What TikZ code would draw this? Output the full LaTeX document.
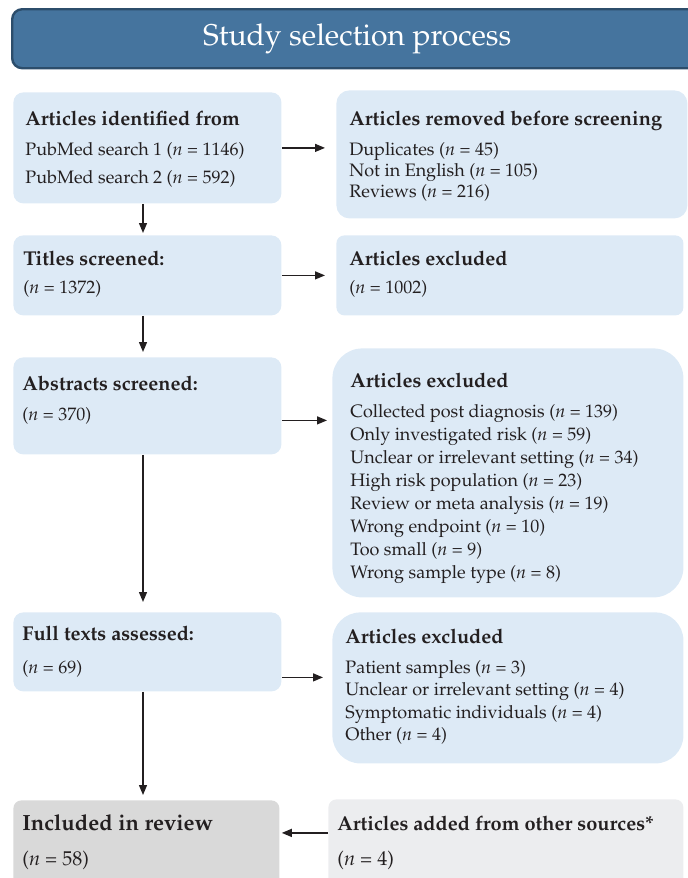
\documentclass[tikz,border=0pt]{standalone}
\usepackage[T1]{fontenc}
\usepackage{mathpazo}
\usepackage{xcolor}
\usetikzlibrary{
  arrows.meta,
  positioning
}
\definecolor{barfill}{HTML}{45749E}
\definecolor{bardraw}{HTML}{2C4D6B}
\definecolor{stagefill}{HTML}{DDEAF6}
\definecolor{finalfill}{HTML}{D9D9D9}
\definecolor{extrafill}{HTML}{ECEDEF}
\definecolor{ink}{HTML}{231F20}

\newcommand{\boxhead}[1]{{\bfseries\fontsize{10}{12}\selectfont #1}}
\newcommand{\nval}[1]{(\textit{n} = #1)}

\tikzset{
  titlebar/.style={
    draw=bardraw,
    line width=1.2pt,
    fill=barfill,
    rounded corners=5pt,
    anchor=north west,
    text=white,
    font=\fontsize{15}{18}\selectfont,
  },
  stagebox/.style={
    fill=stagefill,
    rounded corners=5pt,
    anchor=north west,
    inner sep=0pt,
  },
  listbox/.style={
    stagebox,
    rounded corners=15pt,
  },
  boxtxt/.style={
    inner sep=0pt,
    align=left,
    text=ink,
    font=\fontsize{9}{14}\selectfont,
  },
  arr/.style={
    -{Triangle[length=5pt,width=4pt]},
    line width=0.65pt,
    draw=ink,
  },
}

\begin{document}
\begin{tikzpicture}[x=0.5pt, y=0.5pt]
  \clip (0,0) rectangle (688,-878);

  % --- heading ---
  \node[titlebar, minimum width=345pt, minimum height=29.5pt] (head) at (11,-8)
    {Study selection process};

  % --- main stages (left column) ---
  \node[stagebox, minimum width=134pt, minimum height=55.5pt] (ident)    at (13,-92)  {};
  \node[stagebox, minimum width=134pt, minimum height=40pt]   (titles)   at (13,-235) {};
  \node[stagebox, minimum width=134pt, minimum height=48.5pt] (abstr)    at (13,-357) {};
  \node[stagebox, minimum width=134pt, minimum height=39.5pt] (fulltext) at (13,-612) {};
  \node[stagebox, fill=finalfill, rounded corners=4pt,
        minimum width=133pt, minimum height=45pt]            (incl)     at (13,-800) {};

  % --- exclusions (right column) ---
  \node[stagebox, rounded corners=6.5pt, minimum width=175.5pt, minimum height=64pt]
    (removed) at (336,-90) {};
  \node[stagebox, rounded corners=4pt, minimum width=173.5pt, minimum height=40pt]
    (excl1) at (336,-235) {};
  \node[listbox, minimum width=175.5pt, minimum height=124.5pt] (excl2) at (332,-348) {};
  \node[listbox, rounded corners=14pt, minimum width=175.5pt, minimum height=75.5pt]
    (excl3) at (332,-612) {};
  \node[stagebox, fill=extrafill, rounded corners=4pt,
        minimum width=177.5pt, minimum height=45pt] (added) at (328,-799) {};

  % --- box texts ---
  \node[boxtxt, below right=9.2pt and 6pt of ident.north west] (identtxt)
    {\boxhead{Articles identified from}\\[1pt]
     PubMed search 1 \nval{1146}\\
     PubMed search 2 \nval{592}};
  \node[boxtxt, font=\fontsize{9}{10.5}\selectfont,
        below right=10.2pt and 6.5pt of removed.north west] (removedtxt)
    {\boxhead{Articles removed before screening}\\[4.5pt]
     Duplicates \nval{45}\\
     Not in English \nval{105}\\
     Reviews \nval{216}};
  \node[boxtxt, below right=7.7pt and 5pt of titles.north west] (titlestxt)
    {\boxhead{Titles screened:}\\
     \nval{1372}};
  \node[boxtxt, below right=7.7pt and 6.5pt of excl1.north west] (excl1txt)
    {\boxhead{Articles excluded}\\
     \nval{1002}};
  \node[boxtxt, below right=9.2pt and 4.5pt of abstr.north west] (abstrtxt)
    {\boxhead{Abstracts screened:}\\[1pt]
     \nval{370}};
  \node[boxtxt, font=\fontsize{9}{11.5}\selectfont,
        below right=12.2pt and 9pt of excl2.north west] (excl2txt)
    {\boxhead{Articles excluded}\\[3.5pt]
     Collected post diagnosis \nval{139}\\
     Only investigated risk \nval{59}\\
     Unclear or irrelevant setting \nval{34}\\
     High risk population \nval{23}\\
     Review or meta analysis \nval{19}\\
     Wrong endpoint \nval{10}\\
     Too small \nval{9}\\
     Wrong sample type \nval{8}};
  \node[boxtxt, below right=6.7pt and 4.5pt of fulltext.north west] (fulltexttxt)
    {\boxhead{Full texts assessed:}\\[2.5pt]
     \nval{69}};
  \node[boxtxt, font=\fontsize{9}{11.25}\selectfont,
        below right=8.2pt and 6.5pt of excl3.north west] (excl3txt)
    {\boxhead{Articles excluded}\\[3.75pt]
     Patient samples \nval{3}\\
     Unclear or irrelevant setting \nval{4}\\
     Symptomatic individuals \nval{4}\\
     Other \nval{4}};
  \node[boxtxt, font=\fontsize{10}{17.5}\selectfont,
        below right=7pt and 4.5pt of incl.north west] (incltxt)
    {{\bfseries\fontsize{11}{13}\selectfont Included in review}\\
     \nval{58}};
  \node[boxtxt, font=\fontsize{10}{17.5}\selectfont,
        below right=8.2pt and 4.5pt of added.north west] (addedtxt)
    {\boxhead{Articles added from other sources*}\\
     \nval{4}};

  % --- flow down the left column ---
  \coordinate (spine) at (143,0);
  \draw[arr, shorten >=1pt]   (spine |- ident.south)    -- (spine |- titles.north);
  \draw[arr, shorten >=2.5pt] (spine |- titles.south)   -- (spine |- abstr.north);
  \draw[arr, shorten >=5pt]   (spine |- abstr.south)    -- (spine |- fulltext.north);
  \draw[arr, shorten >=2.5pt] (spine |- fulltext.south) -- (spine |- incl.north);

  % --- side arrows ---
  \coordinate (abstrout) at ([yshift=-7.25pt]abstr.east);
  \coordinate (fullout)  at ([yshift=-12.75pt]fulltext.east);
  \coordinate (addedin)  at ([yshift=5.75pt]added.west);
  \draw[arr, shorten >=5.5pt] (ident.east)  -- (ident.east -| removed.west);
  \draw[arr, shorten >=5.5pt] (titles.east) -- (titles.east -| excl1.west);
  \draw[arr, shorten >=2.5pt] (abstrout)    -- (abstrout -| excl2.west);
  \draw[arr, shorten >=4.5pt] (fullout)     -- (fullout -| excl3.west);
  \draw[arr, shorten >=1pt]   (addedin)     -- (addedin -| incl.east);
\end{tikzpicture}
\end{document}
